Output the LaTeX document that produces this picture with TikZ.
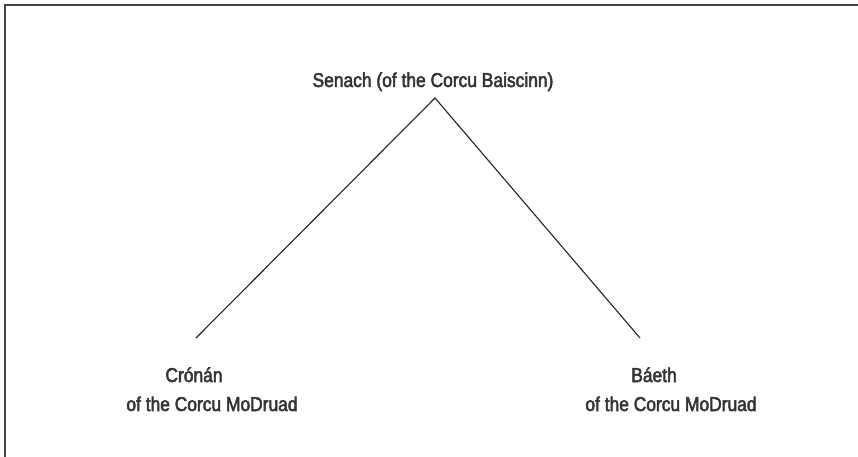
\documentclass[tikz,border=0pt]{standalone}
\usepackage{fontspec}
\setmainfont{Liberation Sans}[FakeBold=2.5,FakeStretch=0.87]
\definecolor{ink}{HTML}{333333}
\definecolor{edge}{HTML}{222222}
\definecolor{frame}{HTML}{444444}
\begin{document}
\begin{tikzpicture}[x=1pt,y=-1pt,
  person/.style={inner sep=0pt,text=ink,align=center,
    font=\fontsize{20}{29}\selectfont},
  link/.style={draw=edge,line width=1.1pt}]
\useasboundingbox (0,0) rectangle (858,457);
% open frame: top and left sides only
\draw[frame,line width=1.6pt] (858,5.3) -- (5,5.3) -- (5,457);
% people (base anchor sits on the last line)
\node[person,anchor=base] (senach) at (433,87) {Senach (of the Corcu Baiscinn)};
\node[person,anchor=base] (cronan) at (212,411) {Crónán\hspace*{36pt}\\of the Corcu MoDruad};
\node[person,anchor=base] (baeth) at (671,411) {Báeth\hspace*{34pt}\\of the Corcu MoDruad};
% descent lines
\coordinate (apex) at (435,98);
\coordinate (leftend) at (196,338);
\coordinate (rightend) at (640,338);
\draw[link] (leftend) -- (apex) -- (rightend);
\end{tikzpicture}
\end{document}
